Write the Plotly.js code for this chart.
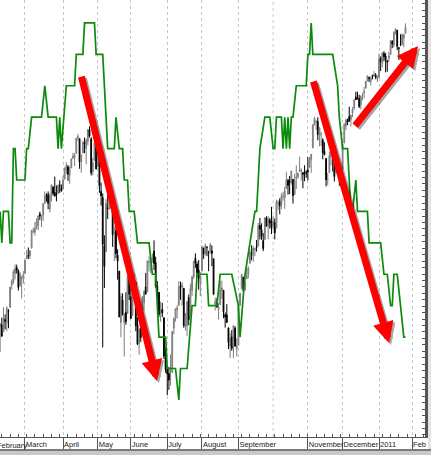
<!DOCTYPE html>
<html><head><meta charset="utf-8">
<script src="https://cdn.plot.ly/plotly-3.0.1.min.js"></script>
<style>html,body{margin:0;padding:0;background:#fff;overflow:hidden}#chart{width:431px;height:455px}</style>
</head><body><div id="chart"></div>
<script>
// Trading-day index 0 = 5 Feb 2010 ... 245 = 26 Jan 2011
const monthTickIdx  = [15, 38, 59, 79, 101, 122, 144, 186, 207, 229, 249];
const monthTickText = ['March','April','May','June','July','August','September','November','December','2011','Feb'];
const octoberIdx = 165;
const firstLabel = 'February';

const open = [
1064.1,1065.5,1060.1,1069.7,1067.1,1075.9,1079.1,1096.1,1099.0,1105.5,1110.0,1107.5,1095.9,1101.2,1103.1,
1105.4,1117.0,1119.4,1119.1,1125.1,1138.4,1137.6,1140.2,1143.0,1151.7,1148.5,1150.8,1159.9,1166.1,1166.7,1155.4,1166.0,1172.7,1168.4,1167.6,1167.7,1173.8,1171.8,
1171.2,1178.7,1186.0,1188.2,1181.8,1187.5,1194.9,1195.9,1198.7,1210.8,1210.2,1192.1,1199.0,1207.2,1202.5,1207.9,1217.1,1209.9,1184.6,1193.3,1206.8,
1188.6,1197.5,1169.2,1164.4,1127.0,1122.3,1156.4,1155.4,1170.0,1157.2,1136.5,1138.8,1119.6,1107.3,1067.3,1084.8,1067.4,1075.5,1074.3,1102.6,
1087.3,1073.0,1098.8,1098.4,1065.8,1050.8,1062.8,1058.8,1082.7,1095.0,1091.2,1114.0,1116.0,1116.2,1122.8,1113.9,1095.6,1090.9,1075.1,1077.5,1071.1,1040.6,
1031.1,1027.7,1028.1,1028.5,1062.9,1070.5,1077.2,1080.7,1095.6,1094.5,1093.9,1066.0,1064.5,1086.7,1072.1,1092.2,1102.9,1117.4,1112.8,1108.1,1098.4,
1107.5,1125.3,1121.1,1125.8,1122.1,1122.8,1122.9,1116.9,1081.5,1082.2,1077.5,1081.2,1092.1,1092.4,1073.4,1073.4,1063.2,1049.0,1056.3,1049.3,1062.9,1046.9,
1049.7,1080.7,1093.6,1102.6,1092.4,1101.2,1104.6,1113.4,1121.2,1119.4,1123.9,1126.4,1126.6,1142.8,1139.5,1131.1,1131.7,1148.6,1142.3,1146.8,1146.0,
1143.5,1145.0,1140.7,1159.8,1161.6,1158.4,1165.3,1164.3,1171.3,1177.8,1177.5,1176.8,1178.6,1166.7,1179.6,1180.5,1184.7,1184.9,1183.8,1184.5,1183.9,
1185.7,1187.9,1193.8,1203.0,1221.2,1223.2,1223.6,1213.1,1213.0,1209.1,1200.4,1194.8,1178.3,1183.8,1196.1,1198.1,1192.5,1183.7,1194.2,1189.1,1183.0,
1186.6,1206.8,1219.9,1223.9,1227.3,1225.0,1230.1,1233.9,1242.5,1241.8,1241.6,1236.3,1243.6,1245.8,1249.4,1254.9,1257.5,1254.7,1259.1,1258.8,1259.4,1256.8,
1257.6,1273.0,1268.8,1276.3,1274.4,1270.8,1272.6,1275.7,1285.8,1282.9,1293.2,1294.5,1280.9,1283.6,1283.3,1288.2,1292.0
];
const high = [
1067.1,1071.2,1079.3,1073.7,1080.0,1077.8,1095.0,1101.0,1108.2,1112.4,1112.3,1108.6,1106.4,1103.5,1107.2,
1116.1,1123.5,1125.6,1123.7,1139.4,1141.1,1145.4,1148.3,1150.2,1153.4,1150.9,1160.3,1169.2,1167.8,1169.2,1167.8,1174.7,1173.0,1180.7,1173.9,1174.9,1177.8,1174.6,
1181.4,1187.7,1191.8,1189.6,1188.6,1194.7,1199.2,1199.0,1210.7,1213.9,1210.2,1197.9,1208.6,1211.0,1210.3,1217.3,1219.8,1211.4,1195.1,1209.4,1208.0,
1205.1,1197.5,1176.0,1167.6,1135.1,1163.2,1170.5,1172.9,1173.6,1157.2,1141.9,1148.7,1124.3,1107.3,1090.2,1090.0,1074.8,1090.8,1103.5,1102.6,
1094.8,1098.6,1105.7,1098.4,1071.4,1063.2,1077.7,1087.9,1092.3,1105.9,1115.6,1118.7,1117.7,1121.0,1131.2,1118.5,1099.6,1090.9,1083.6,1082.6,1071.1,1048.1,
1033.6,1032.9,1042.5,1060.9,1071.3,1078.2,1080.8,1099.5,1099.1,1098.7,1093.9,1074.7,1083.9,1089.0,1097.5,1103.7,1115.0,1121.0,1114.7,1115.9,1106.4,
1127.3,1125.4,1128.8,1126.6,1123.1,1129.2,1127.2,1116.9,1086.7,1086.3,1082.6,1100.1,1099.8,1092.4,1075.3,1081.6,1063.2,1059.4,1061.5,1065.2,1064.4,1055.1,
1081.3,1090.1,1105.1,1102.6,1103.3,1110.3,1110.9,1123.9,1127.4,1126.5,1125.4,1131.5,1144.9,1148.6,1144.4,1136.8,1148.9,1149.9,1150.0,1148.6,1157.2,
1150.3,1148.2,1162.8,1162.3,1163.9,1167.7,1168.7,1172.6,1184.4,1178.9,1181.2,1185.5,1178.6,1182.9,1189.4,1183.9,1196.1,1187.1,1183.8,1189.5,1185.6,
1195.8,1195.9,1198.3,1221.3,1227.1,1224.6,1226.8,1218.8,1215.5,1210.5,1207.4,1194.8,1183.6,1200.3,1200.0,1198.9,1192.5,1198.6,1194.2,1189.1,1187.4,
1207.6,1221.9,1225.6,1225.8,1235.1,1228.9,1234.7,1240.4,1246.7,1246.6,1244.3,1243.8,1245.8,1250.2,1255.0,1259.4,1258.6,1258.4,1259.9,1262.6,1261.1,1259.3,
1276.2,1274.1,1277.6,1278.2,1276.8,1271.5,1277.6,1286.9,1286.7,1293.2,1296.1,1294.6,1281.1,1291.2,1291.9,1291.3,1299.7
];
const low = [
1044.5,1056.5,1060.1,1062.0,1060.6,1062.9,1079.1,1093.0,1097.5,1100.8,1105.4,1092.2,1095.5,1086.0,1097.6,
1105.4,1116.5,1116.6,1116.7,1125.1,1136.8,1134.9,1140.1,1138.9,1146.9,1141.5,1146.2,1159.9,1161.2,1155.3,1152.9,1161.4,1166.0,1165.1,1161.5,1167.7,1168.0,1169.3,
1170.7,1178.7,1182.8,1177.3,1175.1,1187.2,1194.7,1188.8,1198.7,1208.5,1186.8,1183.7,1199.0,1198.9,1190.2,1205.1,1211.1,1181.6,1181.8,1193.3,1186.3,
1188.6,1168.1,1158.2,1048.0,1094.2,1122.3,1147.7,1155.4,1156.1,1126.1,1115.0,1117.2,1100.7,1071.6,1055.9,1072.7,1040.8,1065.6,1074.3,1084.8,
1069.9,1072.4,1091.8,1060.5,1049.9,1042.2,1052.3,1058.8,1077.1,1089.0,1091.2,1107.1,1105.9,1113.9,1108.2,1094.2,1085.3,1071.6,1067.9,1071.5,1039.0,1028.3,
1010.9,1015.0,1018.4,1028.5,1058.2,1068.1,1070.5,1080.7,1085.0,1080.5,1063.3,1061.1,1056.9,1065.3,1072.1,1087.9,1101.3,1109.8,1103.1,1092.8,1088.0,
1107.5,1116.8,1119.5,1118.9,1107.2,1120.9,1111.0,1088.6,1076.7,1079.0,1069.5,1081.2,1085.8,1070.7,1063.4,1067.1,1046.7,1039.8,1045.4,1039.7,1048.8,1040.9,
1049.7,1080.4,1093.6,1091.2,1092.4,1101.2,1101.7,1113.4,1115.6,1114.6,1118.9,1122.4,1126.6,1131.9,1131.6,1122.8,1131.7,1142.0,1132.1,1140.3,1136.1,
1139.4,1131.9,1140.7,1154.9,1151.4,1155.6,1162.0,1155.7,1171.3,1166.7,1167.1,1174.6,1159.7,1166.7,1171.2,1179.0,1184.7,1177.7,1171.7,1177.1,1179.8,
1177.7,1187.9,1183.6,1203.0,1220.3,1217.0,1208.9,1204.3,1204.5,1194.1,1197.2,1173.0,1173.9,1183.8,1189.4,1184.6,1176.9,1183.7,1186.9,1173.6,1174.1,
1186.6,1206.8,1216.8,1220.7,1223.2,1219.5,1226.8,1232.6,1240.3,1240.5,1234.0,1232.9,1239.9,1241.5,1249.4,1254.9,1254.1,1251.5,1256.2,1258.8,1256.3,1254.2,
1257.6,1262.7,1265.4,1270.4,1261.7,1262.2,1269.6,1275.7,1280.5,1281.1,1291.0,1278.9,1271.3,1282.1,1282.5,1281.1,1292.0
];
const close = [
1066.2,1056.7,1070.5,1068.1,1078.5,1075.5,1094.9,1099.5,1106.8,1109.2,1108.0,1094.6,1105.2,1102.9,1104.5,
1115.7,1118.3,1118.8,1123.0,1138.7,1138.5,1140.4,1145.6,1150.2,1150.0,1150.5,1159.5,1166.2,1165.8,1159.9,1165.8,1174.2,1167.7,1165.7,1166.6,1173.2,1173.3,1169.4,
1178.1,1187.4,1189.4,1182.4,1186.4,1194.4,1196.5,1197.3,1210.7,1211.7,1192.1,1197.5,1207.2,1205.9,1208.7,1217.3,1212.1,1183.7,1191.4,1206.8,1186.7,
1202.3,1173.6,1165.9,1128.2,1110.9,1159.7,1155.8,1171.7,1157.4,1135.7,1136.9,1120.8,1115.1,1071.6,1087.7,1073.7,1074.0,1068.0,1103.1,1089.4,
1070.7,1098.4,1102.8,1064.9,1050.5,1062.0,1055.7,1086.8,1091.6,1089.6,1115.2,1114.6,1116.0,1117.5,1113.2,1095.3,1092.0,1073.7,1076.8,1074.6,1041.2,1030.7,
1027.4,1022.6,1028.1,1060.3,1070.3,1078.0,1078.8,1095.3,1095.2,1096.5,1064.9,1071.3,1083.5,1069.6,1093.7,1102.7,1115.0,1113.8,1106.1,1101.5,1101.6,
1125.9,1120.5,1127.2,1125.8,1121.6,1127.8,1121.1,1089.5,1083.6,1079.3,1079.4,1092.5,1094.2,1075.6,1071.7,1067.4,1051.9,1055.3,1047.2,1064.6,1048.9,1049.3,
1080.3,1090.1,1104.5,1091.8,1098.9,1104.2,1109.6,1121.9,1121.1,1125.1,1124.7,1125.6,1142.7,1139.8,1134.3,1124.8,1148.7,1142.2,1147.7,1144.7,1141.2,
1146.2,1137.0,1160.8,1160.0,1158.1,1165.2,1165.3,1169.8,1178.1,1173.8,1176.2,1184.7,1165.9,1178.2,1180.3,1183.1,1185.6,1185.6,1182.4,1183.8,1183.3,
1184.4,1193.6,1198.0,1221.1,1225.9,1223.3,1213.4,1218.7,1213.5,1199.2,1197.8,1178.3,1178.6,1196.7,1199.7,1197.8,1180.7,1198.4,1189.4,1187.8,1180.6,
1206.1,1221.5,1224.7,1223.1,1223.8,1228.3,1233.0,1240.4,1240.5,1241.6,1235.2,1242.9,1243.9,1247.1,1254.6,1258.8,1256.8,1257.5,1258.5,1259.8,1257.9,1257.6,
1271.9,1270.2,1276.6,1273.9,1271.5,1269.8,1274.5,1286.0,1283.8,1293.2,1295.0,1281.9,1280.3,1283.4,1290.8,1291.2,1296.6
];

// green step indicator (turning points: trading-day index, level)
const greenIdx = [0,1,2,5,6,7,8,9,10,15,16,17,19,25,27,29,34,35,36,37,40,45,46,50,51,57,58,62,65,69,70,72,74,75,77,78,81,83,90,92,94,95,96,100,101,106,108,109,113,116,118,119,125,126,131,133,140,144,145,148,151,154,155,156,157,160,163,165,166,167,170,171,172,173,174,175,176,177,179,185,186,187,188,189,201,204,205,207,210,212,213,215,216,222,223,230,232,234,236,237,238,240,242,244,245];
const greenLvl = [6,5,6,6,5,5,8,8,7,7,8,8,9,9,10,9,9,8,9,8,10,10,11,11,12,12,11,11,8,8,9,8,8,7,7,6,6,5,5,4,4,3,2,2,1,1,0,1,1,3,3,4,4,3,3,4,4,3,2,4,5,6,6,7,8,9,9,8,8,9,9,8,9,8,9,8,9,9,10,10,11,11,12,11,11,10,9,8,8,6,6,7,6,6,5,5,4,4,3,3,4,4,3,2,2];

// red arrows: tail -> head (trading-day index, price)
const arrowTailIdx   = [48.9, 189.1, 213.9];
const arrowTailPrice = [1259.6, 1255.7, 1219.2];
const arrowHeadIdx   = [94.8, 235.1, 252.6];
const arrowHeadPrice = [1021.9, 1051.4, 1282.2];

[open,high,low,close].forEach((a,i)=>{ if(a.length!==246) throw new Error('array '+i+' length '+a.length); });
if (greenIdx.length !== greenLvl.length) throw new Error('green len '+greenIdx.length+' vs '+greenLvl.length);

const dayIdx = open.map((_, i) => i);
const FONT = 'Liberation Sans, Arial, sans-serif';
const LABEL_SIZE = 7.5;

const traces = [
  {type:'candlestick', x:dayIdx, open:open, high:high, low:low, close:close,
   increasing:{line:{color:'#7d7d7d', width:1}, fillcolor:'#b8b8b8'},
   decreasing:{line:{color:'#000000', width:1}, fillcolor:'#000000'},
   whiskerwidth:0, hoverinfo:'skip', showlegend:false},
  {type:'scatter', mode:'lines', x:greenIdx, y:greenLvl, yaxis:'y2',
   line:{color:'#0b8a0b', width:1.7}, hoverinfo:'skip', showlegend:false}
];

const PLOT_H = 437, PLOT_W = 425;
const annotations = [];
for (let i = 0; i < arrowTailIdx.length; i++) {
  const base = {x:arrowHeadIdx[i], y:arrowHeadPrice[i], ax:arrowTailIdx[i], ay:arrowTailPrice[i],
    xref:'x', yref:'y', axref:'x', ayref:'y', text:'', showarrow:true,
    arrowhead:2, arrowsize:0.6, arrowwidth:7};
  annotations.push(Object.assign({}, base, {arrowcolor:'rgba(0,0,0,0.35)', xshift:2, yshift:-2}));
  annotations.push(Object.assign({}, base, {arrowcolor:'#ff0000'}));
}
annotations.push({xref:'paper', yref:'paper', x:-5.5/PLOT_W, y:(PLOT_H-445)/PLOT_H,
  xanchor:'left', yanchor:'middle', showarrow:false, text:firstLabel,
  font:{family:FONT, size:LABEL_SIZE, color:'#222'}});

const shapes = [
  {type:'line', xref:'x', yref:'paper', x0:octoberIdx, x1:octoberIdx, y0:0, y1:1,
   line:{color:'#c8c8c8', width:1, dash:'dot'}, layer:'below'},
  {type:'rect', xref:'paper', yref:'paper', x0:0, x1:431/PLOT_W, y0:(PLOT_H-449)/PLOT_H, y1:(PLOT_H-451)/PLOT_H,
   line:{width:0}, fillcolor:'#7a7a7a'},
  {type:'rect', xref:'paper', yref:'paper', x0:0, x1:431/PLOT_W, y0:(PLOT_H-451)/PLOT_H, y1:(PLOT_H-455)/PLOT_H,
   line:{width:0}, fillcolor:'#c9c9c9'},
  {type:'rect', xref:'paper', yref:'paper', x0:428/PLOT_W, x1:431/PLOT_W, y0:1, y1:(PLOT_H-449)/PLOT_H,
   line:{width:0}, fillcolor:'#e4e4e4'}
];

const layout = {
  width:431, height:455,
  margin:{l:0, r:6, t:0, b:18, pad:0},
  paper_bgcolor:'#ffffff', plot_bgcolor:'#ffffff',
  showlegend:false,
  xaxis:{
    type:'linear', range:[-0.1, 256.8], rangeslider:{visible:false}, fixedrange:true,
    tickmode:'array', tickvals:monthTickIdx, ticktext:monthTickText, tickangle:0,
    ticks:'outside', ticklen:12, tickwidth:1, tickcolor:'#555',
    ticklabelposition:'outside right', ticklabelstandoff:0,
    tickfont:{family:FONT, size:LABEL_SIZE, color:'#222'},
    showgrid:true, gridcolor:'#c8c8c8', griddash:'dot', gridwidth:1,
    minor:{ticks:'inside', ticklen:3, tickwidth:1, tickcolor:'#555', tick0:1, dtick:5, showgrid:false},
    showline:true, linecolor:'#555', linewidth:1, zeroline:false
  },
  yaxis:{
    range:[978.4, 1317.9], side:'right', fixedrange:true,
    showgrid:false, showticklabels:false, ticks:'inside', ticklen:3, tickcolor:'#555', dtick:5,
    showline:true, linecolor:'#555', linewidth:3, zeroline:false
  },
  yaxis2:{overlaying:'y', range:[-1.18, 12.73], visible:false, fixedrange:true},
  annotations:annotations,
  shapes:shapes
};

Plotly.newPlot('chart', traces, layout, {staticPlot:true, displayModeBar:false});
</script></body></html>
